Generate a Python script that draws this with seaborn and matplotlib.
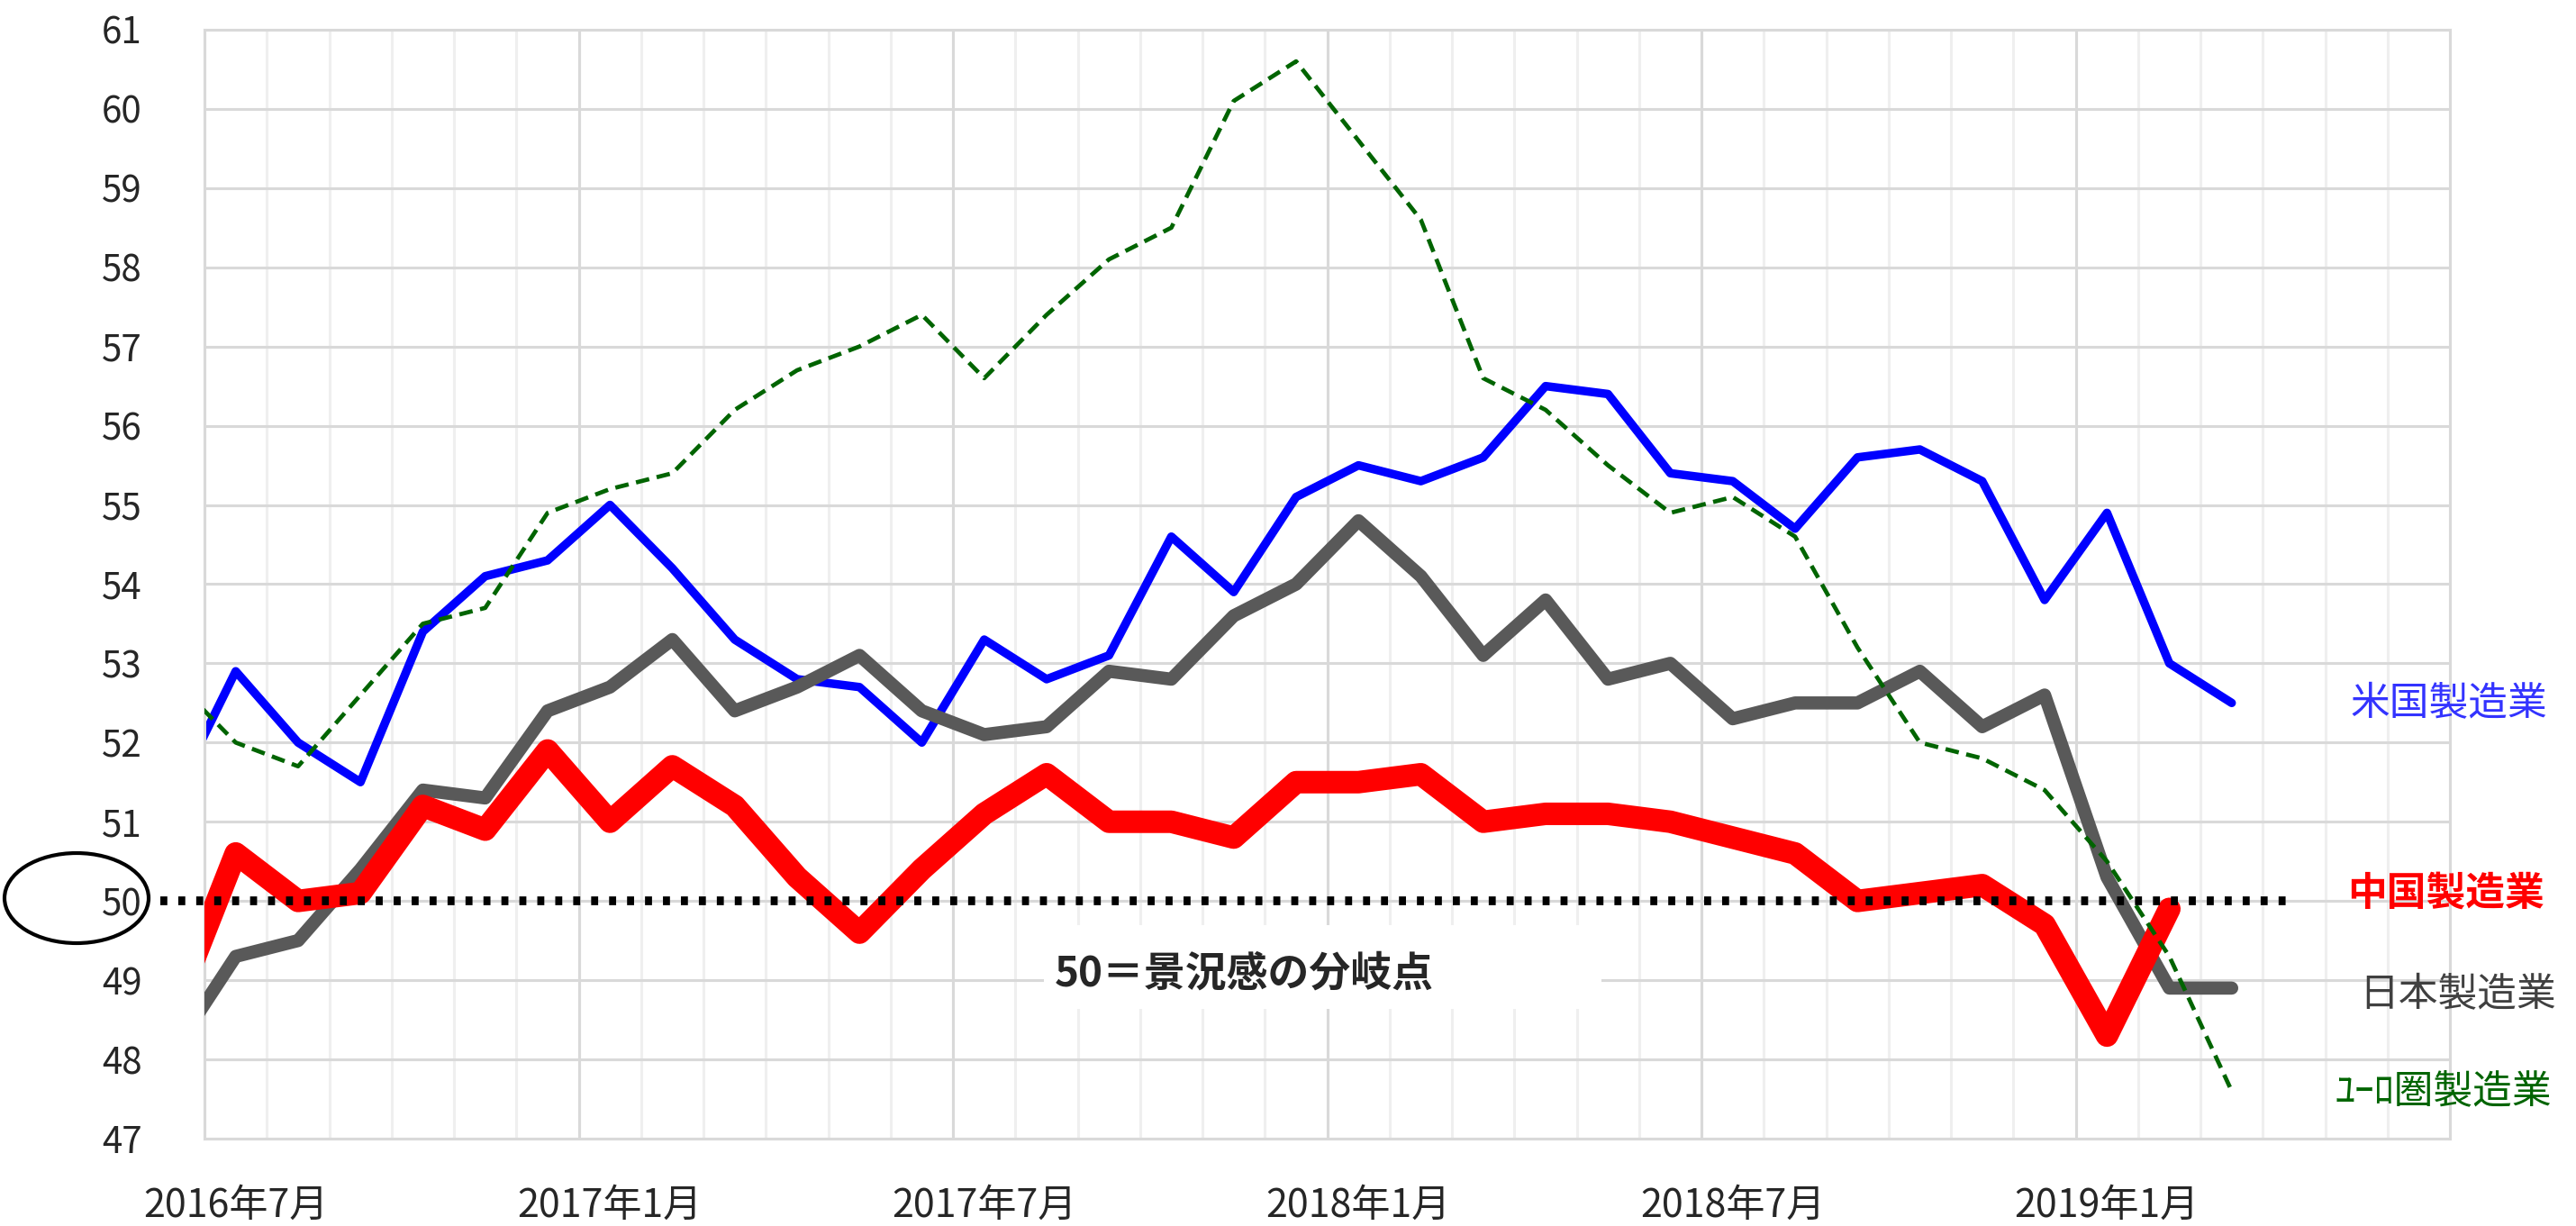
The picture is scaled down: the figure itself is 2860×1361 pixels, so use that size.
import numpy as np
import pandas as pd
import matplotlib.pyplot as plt
import seaborn as sns
from matplotlib.patches import Ellipse, Rectangle

# 製造業PMI（2016年6月〜2019年3月、月次）
months = pd.period_range("2016-06", "2019-03", freq="M")
usa = [51.3, 52.9, 52.0, 51.5, 53.4, 54.1, 54.3, 55.0, 54.2, 53.3, 52.8, 52.7,
       52.0, 53.3, 52.8, 53.1, 54.6, 53.9, 55.1, 55.5, 55.3, 55.6, 56.5, 56.4,
       55.4, 55.3, 54.7, 55.6, 55.7, 55.3, 53.8, 54.9, 53.0, 52.5]
japan = [48.1, 49.3, 49.5, 50.4, 51.4, 51.3, 52.4, 52.7, 53.3, 52.4, 52.7, 53.1,
         52.4, 52.1, 52.2, 52.9, 52.8, 53.6, 54.0, 54.8, 54.1, 53.1, 53.8, 52.8,
         53.0, 52.3, 52.5, 52.5, 52.9, 52.2, 52.6, 50.3, 48.9, 48.9]
china = [48.6, 50.6, 50.0, 50.1, 51.2, 50.9, 51.9, 51.0, 51.7, 51.2, 50.3, 49.6,
         50.4, 51.1, 51.6, 51.0, 51.0, 50.8, 51.5, 51.5, 51.6, 51.0, 51.1, 51.1,
         51.0, 50.8, 50.6, 50.0, 50.1, 50.2, 49.7, 48.3, 49.9, np.nan]
euro = [52.8, 52.0, 51.7, 52.6, 53.5, 53.7, 54.9, 55.2, 55.4, 56.2, 56.7, 57.0,
        57.4, 56.6, 57.4, 58.1, 58.5, 60.1, 60.6, 59.6, 58.6, 56.6, 56.2, 55.5,
        54.9, 55.1, 54.6, 53.2, 52.0, 51.8, 51.4, 50.5, 49.3, 47.6]

tick_labels = ["2016年7月", "2017年1月", "2017年7月", "2018年1月", "2018年7月", "2019年1月"]
series_names = ["米国製造業", "中国製造業", "日本製造業", "ﾕｰﾛ圏製造業"]

# 2016年7月 = 0
idx = np.arange(len(months)) - 1
df = pd.DataFrame({"idx": idx, "usa": usa, "japan": japan, "china": china, "euro": euro})

sns.set_style("white")
plt.rcParams["font.family"] = ["Noto Sans CJK JP", "DejaVu Sans"]

fig = plt.figure(figsize=(28.6, 13.61), dpi=100)
ax = fig.add_axes([0.0794, 0.0713, 0.8717, 0.9045])

# 系列
sns.lineplot(data=df, x="idx", y="usa", ax=ax, color="#0000FF", lw=6.8,
             estimator=None, zorder=2)
sns.lineplot(data=df, x="idx", y="japan", ax=ax, color="#595959", lw=10.5,
             estimator=None, zorder=3)
sns.lineplot(data=df, x="idx", y="china", ax=ax, color="#FF0000", lw=18,
             estimator=None, zorder=4)
sns.lineplot(data=df, x="idx", y="euro", ax=ax, color="#006400", lw=3.4,
             linestyle=(0, (3.2, 1.8)), estimator=None, zorder=5)

# 50ライン
ax.axhline(50, xmin=(178 - 227) / 2493, xmax=(2543 - 227) / 2493, color="black",
           lw=7, linestyle=(0, (0.8, 1.25)), clip_on=False, zorder=6)

ax.set_xlim(-0.5, 35.5)
ax.set_ylim(47, 61)
ax.set_yticks(range(47, 62))
ax.set_xticks(np.arange(0, 31, 6))
ax.set_xticklabels(tick_labels)
ax.set_xticks(np.arange(-0.5, 36, 1), minor=True)
ax.set_xlabel("")
ax.set_ylabel("")

# グリッド
ax.grid(which="major", axis="y", color="#d9d9d9", lw=2.2)
ax.grid(which="minor", axis="x", color="#efefef", lw=2.2)
ax.grid(which="major", axis="x", visible=False)
for b in np.arange(5.5, 35, 6):
    ax.axvline(b, color="#d9d9d9", lw=2.2, zorder=0.6)
for s in ax.spines.values():
    s.set_color("#d9d9d9")
    s.set_linewidth(2.2)

ax.tick_params(axis="both", which="both", length=0)
ax.tick_params(axis="y", labelsize=29, pad=50)
ax.tick_params(axis="x", labelsize=31, pad=38)

# 注記
ax.add_patch(Rectangle((12.95, 48.64), 8.95, 1.06, facecolor="white",
                       edgecolor="none", zorder=1))
ax.text(13.12, 49.07, "50＝景況感の分岐点", fontsize=33, fontweight="bold",
        va="center", ha="left", zorder=7)

ax.text(33.9, 52.5, series_names[0], color="#3333FF", fontsize=31.5, va="center", ha="left")
ax.text(33.85, 50.1, series_names[1], color="#FF0000", fontsize=31.5, fontweight="bold",
        va="center", ha="left")
ax.text(34.05, 48.83, series_names[2], color="#404040", fontsize=31.5, va="center", ha="left")
ax.text(33.65, 47.6, series_names[3], color="#006400", fontsize=31.5, va="center", ha="left")

fig.add_artist(Ellipse((85 / 2860, 1 - 997 / 1361), 160 / 2860, 100 / 1361,
                       transform=fig.transFigure, fill=False, ec="black", lw=3))

fig.savefig("out.png", dpi=100)
